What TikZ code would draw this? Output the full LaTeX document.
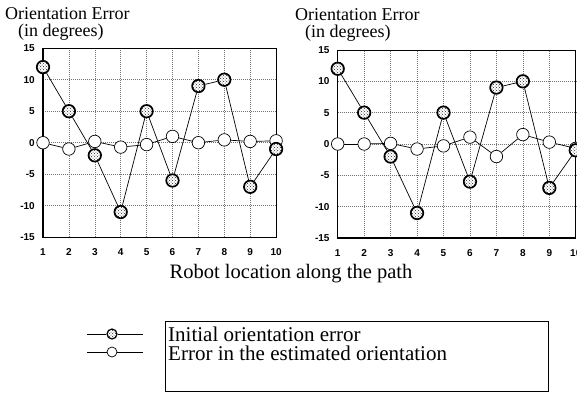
\documentclass[tikz,border=0pt]{standalone}
\usepackage{fontspec}
\setmainfont{Liberation Serif}
\newfontfamily\tickfont{Liberation Sans}
\usetikzlibrary{patterns}
\tikzset{
  initmk/.style={circle, draw=black, line width=1.7pt, minimum size=12.5pt, inner sep=0pt,
    preaction={fill=white}, pattern=crosshatch dots, pattern color=black!85},
  initsm/.style={initmk, minimum size=10pt, line width=1.2pt},
  estmk/.style={circle, draw=black, line width=0.7pt, fill=white, minimum size=12.5pt, inner sep=0pt},
  estsm/.style={estmk, minimum size=10pt},
  gridln/.style={black!55, dash pattern=on 1pt off 1pt, line width=0.6pt},
  framel/.style={black, line width=0.8pt},
  datln/.style={black, line width=0.7pt},
  ticklbl/.style={font=\tickfont\bfseries\fontsize{10}{11}\selectfont, inner sep=0pt},
  ttl/.style={font=\fontsize{18}{20}\selectfont, inner sep=0pt, anchor=west},
  biglbl/.style={font=\fontsize{20.5}{23}\selectfont, inner sep=0pt},
  leglbl/.style={font=\fontsize{21}{23}\selectfont, inner sep=0pt, anchor=base west},
}
% #1 prefix, #2 x0, #3 y0 (pixel row of zero), #4 dx, #5 dy, #6 estimated values
\newcommand\myplot[6]{%
\begin{scope}[shift={(#2,-#3)}, x=#4pt, y=#5pt]
  \foreach \i in {1,...,8} \draw[gridln] (\i,-15) -- (\i,15);
  \foreach \v in {-10,-5,0,5,10} \draw[gridln] (0,\v) -- (9,\v);
  \draw[framel] (0,-15) rectangle (9,15);
  \draw[black, line width=1.3pt] (0,15) -- (0,-15) -- (9,-15);
  \foreach \i in {1,...,10} \node[ticklbl] (#1x\i) at ({\i-1},-15) [yshift=-15pt] {\i};
  \foreach \v in {-15,-10,-5,0,5,10,15} \node[ticklbl, anchor=east] (#1y\v) at (0,\v) [xshift=-8pt] {\v};
  \foreach \v [count=\i] in {#6} \node[estmk] (#1e\i) at ({\i-1},\v) {};
  \foreach \i [evaluate=\i as \j using int(\i+1)] in {1,...,9} \draw[datln] (#1e\i) -- (#1e\j);
  \foreach \v [count=\i] in {12,5,-2,-11,5,-6,9,10,-7,-1} \node[initmk] (#1n\i) at ({\i-1},\v) {};
  \foreach \i [evaluate=\i as \j using int(\i+1)] in {1,...,9} \draw[datln] (#1n\i) -- (#1n\j);
\end{scope}}
\begin{document}
\begin{tikzpicture}[x=1pt,y=1pt]
\useasboundingbox (0,-392) rectangle (577,0);
% titles
\node[ttl] (lt1) at (5,-14) {Orientation Error};
\node[ttl] (lt2) at (18,-32) {(in degrees)};
\node[ttl] (rt1) at (295,-15) {Orientation Error};
\node[ttl] (rt2) at (305,-33) {(in degrees)};
% plots
\myplot{L}{43}{142.7}{25.9}{6.3}{0,-1,0.2,-0.7,-0.3,1.0,0,0.45,0.2,0.3}
\myplot{R}{337.7}{144}{26.45}{6.27}{0,0,0.1,-0.8,-0.3,1.1,-2,1.5,0.3,-0.7}
% axis caption
\node[biglbl] (cap) at (291,-274) {Robot location along the path};
% legend
\draw[black, line width=0.8pt] (165,-321) rectangle (548,-391);
\node[leglbl] (lg1) at (168,-341) {Initial orientation error};
\node[leglbl] (lg2) at (168,-360) {Error in the estimated orientation};
\coordinate (la1) at (87,-334);
\coordinate (lb1) at (143,-334);
\node[initsm] (lm1) at (112,-334) {};
\draw[datln] (la1) -- (lm1);
\draw[datln] (lm1) -- (lb1);
\coordinate (la2) at (87,-352);
\coordinate (lb2) at (143,-352);
\node[estsm] (lm2) at (112,-352) {};
\draw[datln] (la2) -- (lm2);
\draw[datln] (lm2) -- (lb2);
\end{tikzpicture}
\end{document}
